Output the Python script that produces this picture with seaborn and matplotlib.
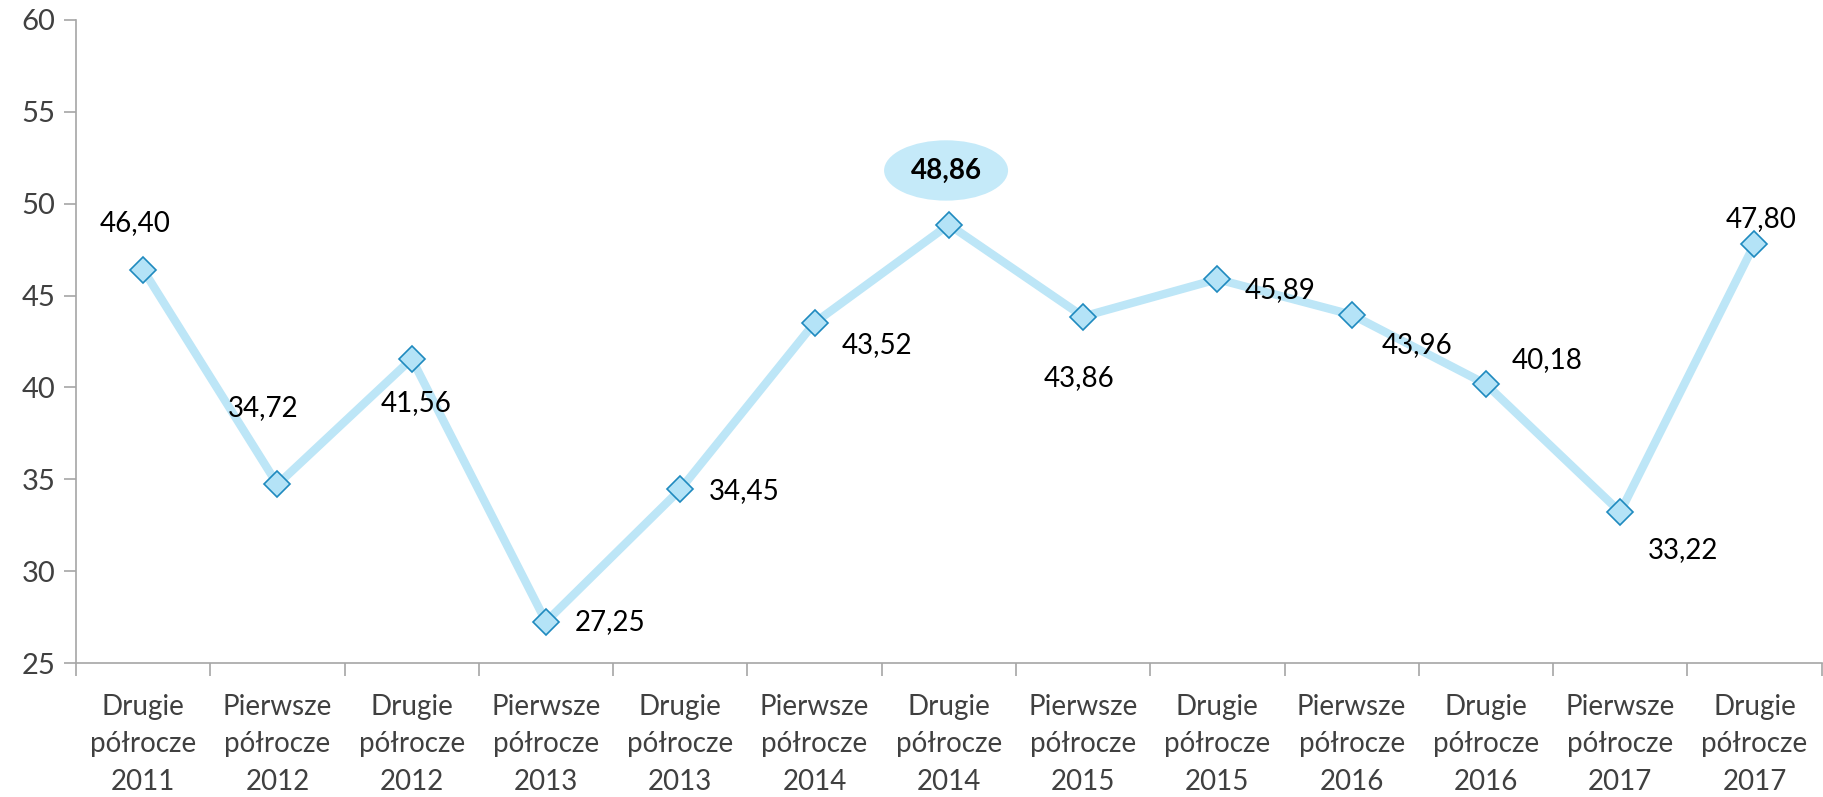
import matplotlib
matplotlib.use("Agg")
import matplotlib.pyplot as plt
import seaborn as sns
import pandas as pd
from matplotlib.ticker import MultipleLocator, FixedLocator

# data
periods = [
    "Drugie\npółrocze\n2011", "Pierwsze\npółrocze\n2012", "Drugie\npółrocze\n2012",
    "Pierwsze\npółrocze\n2013", "Drugie\npółrocze\n2013", "Pierwsze\npółrocze\n2014",
    "Drugie\npółrocze\n2014", "Pierwsze\npółrocze\n2015", "Drugie\npółrocze\n2015",
    "Pierwsze\npółrocze\n2016", "Drugie\npółrocze\n2016", "Pierwsze\npółrocze\n2017",
    "Drugie\npółrocze\n2017",
]
values = [46.40, 34.72, 41.56, 27.25, 34.45, 43.52, 48.86, 43.86, 45.89, 43.96, 40.18, 33.22, 47.80]
highlight_idx = 6

# label offsets in points (dx, dy)
label_offsets = [(-6, 34), (-10, 55), (3, -32), (46, 0), (46, -1), (45, -16), (-2, 39),
                 (-3, -44), (45, -8), (47, -22), (44, 17), (45, -27), (5, 18)]

FS = 20

sns.set_theme(style="white")
plt.rcParams["font.family"] = ["Lato", "DejaVu Sans"]

df = pd.DataFrame({"pos": range(len(values)), "value": values})

fig = plt.figure(figsize=(18.24, 7.97), dpi=100)
ax = fig.add_axes([0.0417, 0.168, 0.957, 0.807])

sns.lineplot(data=df, x="pos", y="value", ax=ax, color="#BDE6F7", linewidth=6,
             marker="D", markersize=13, markerfacecolor="#B4E3F7",
             markeredgecolor="#1F8ABF", markeredgewidth=1.2, sort=False)

for i, (v, off) in enumerate(zip(values, label_offsets)):
    txt = f"{v:.2f}".replace(".", ",")
    if i == highlight_idx:
        ax.annotate(txt, (i, v), xytext=off, textcoords="offset points",
                    ha="center", va="center", fontsize=FS, fontweight="bold", color="black",
                    bbox=dict(boxstyle="ellipse,pad=0.3", fc="#C5EAF9", ec="none"))
    else:
        ax.annotate(txt, (i, v), xytext=off, textcoords="offset points",
                    ha="center", va="center", fontsize=FS, color="black")

ax.set_xlim(-0.5, len(values) - 0.5)
ax.set_ylim(25, 60)
ax.yaxis.set_major_locator(MultipleLocator(5))
ax.set_xticks(range(len(values)))
ax.set_xticklabels(periods, linespacing=1.55)
ax.xaxis.set_minor_locator(FixedLocator([i - 0.5 for i in range(len(values) + 1)]))
ax.tick_params(axis="x", which="major", length=0, pad=22, labelsize=FS, labelcolor="#404040")
ax.tick_params(axis="x", which="minor", length=9, width=1.2, color="#A6A6A6", direction="out", bottom=True)
ax.tick_params(axis="y", which="major", length=9, width=1.2, color="#A6A6A6", direction="out",
               left=True, pad=6, labelsize=FS + 1, labelcolor="#404040")
ax.set_xlabel("")
ax.set_ylabel("")

for side in ["top", "right"]:
    ax.spines[side].set_visible(False)
for side in ["left", "bottom"]:
    ax.spines[side].set_color("#A6A6A6")
    ax.spines[side].set_linewidth(1.2)

fig.savefig("out.png", dpi=100)
plt.close(fig)
